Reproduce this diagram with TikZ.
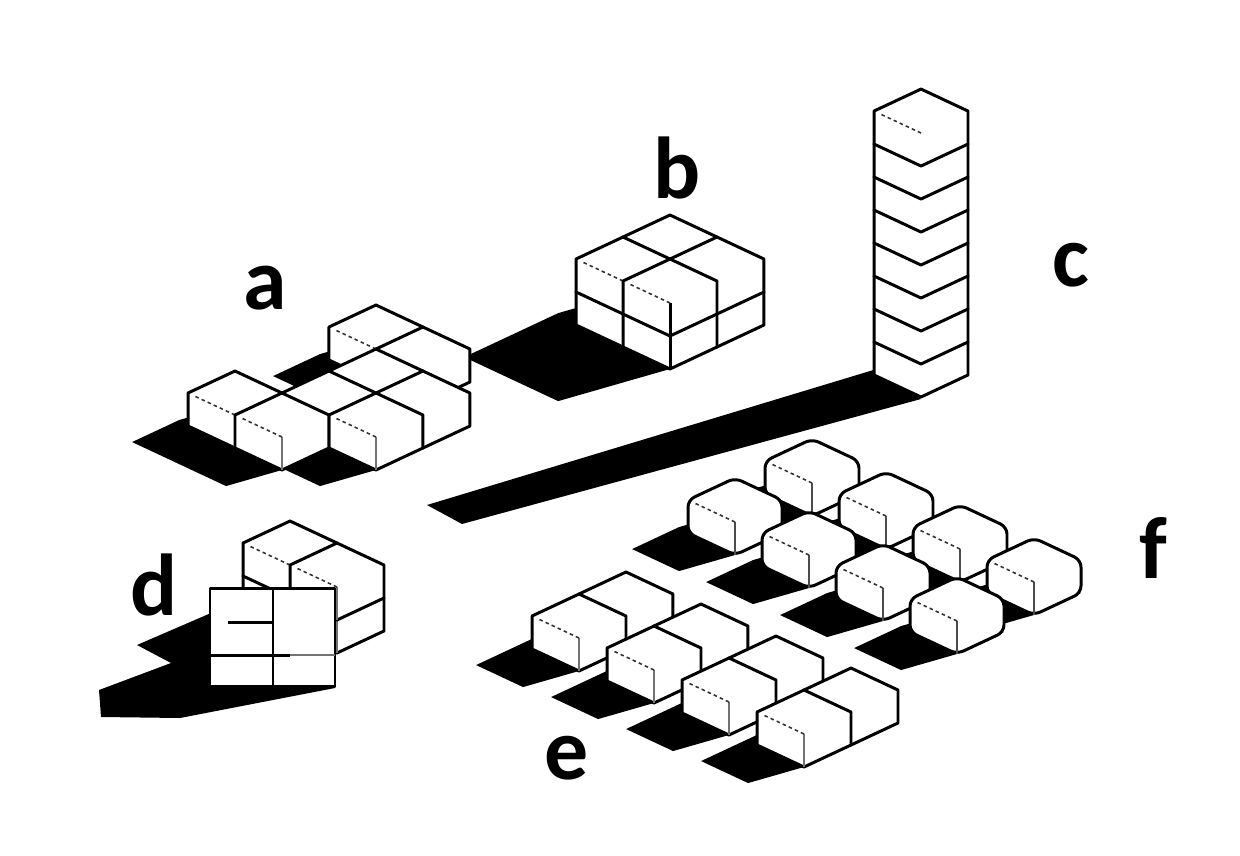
\documentclass[tikz,border=0pt]{standalone}
\usepackage{fontspec}
\setmainfont{Carlito}
\usetikzlibrary{positioning}
% one unit cube at (i,j,k) in the iso frame of the current scope
\newcommand{\isocube}[3]{%
  \filldraw[cubeface] (#1,#2,#3) -- ++(1,0,0) -- ++(0,0,1) -- ++(0,1,0) -- ++(-1,0,0) -- ++(0,0,-1) -- cycle;
  \draw[frontedge] (#1,#2,#3) -- ++(0,0,1);
  \draw[hidedge] (#1,#2,#3) ++(0,0,1) -- ++(0,1,0);
  \draw[cubeedge] (#1,#2,#3) ++(0,0,1) -- ++(1,0,0);
}
% ground shadow of a block: corner i j, size w x d, height h
\newcommand{\isoshadow}[5]{%
  \fill[shadowfill] (#1,#2,0) -- ++(#3,0,0) -- ++(0,#4,0) -- ++({-0.96*#5},{0.23*#5},0) -- ++(-#3,0,0) -- ++(0,-#4,0) -- cycle;
}

\begin{document}
\begin{tikzpicture}[x=0.02cm, y=-0.02cm,
  iso/.style={x={(0.94cm,0.44cm)}, y={(-0.94cm,0.44cm)}, z={(0cm,0.66cm)}},
  cubeface/.style={fill=white, draw=black, line width=1.7pt, line join=round},
  cubeedge/.style={draw=none},
  hidedge/.style={draw=black!80, line width=0.9pt, dash pattern=on 2pt off 1.8pt, shorten >=4pt},
  frontedge/.style={draw=black!55, line width=1.1pt},
  shadowfill/.style={fill=black},
  letter/.style={font=\fontsize{50}{50}\selectfont\bfseries, inner sep=0pt}
]
  \useasboundingbox (0,0) rectangle (1240,855);

  % Shadows
  \fill[shadowfill] (880,368) -- (427,505) -- (462,524) -- (921,399) -- cycle;
  \begin{scope}[shift={(670,369)}, iso]
    \isoshadow{0}{0}{2}{2}{2}
  \end{scope}
  \begin{scope}[shift={(235,448)}, iso]
    \isoshadow{3}{0}{1}{1}{1}
    \isoshadow{3}{-1}{1}{1}{1}
    \isoshadow{2}{-1}{1}{1}{1}
    \isoshadow{2}{-2}{1}{1}{1}
    \isoshadow{1}{-1}{1}{1}{1}
    \isoshadow{1}{-2}{1}{1}{1}
    \isoshadow{0}{0}{1}{1}{1}
    \isoshadow{0}{-1}{1}{1}{1}
  \end{scope}
  \fill[shadowfill] (211,613) -- (137,645) -- (171,663) -- (99,690) -- (101,717)
    -- (180,718) -- (335,688) -- (335,670) -- (211,670) -- cycle;

  % a
  \begin{scope}[shift={(235,448)}, iso]
    \isocube{3}{0}{0}
    \isocube{3}{-1}{0}
    \isocube{2}{-1}{0}
    \isocube{2}{-2}{0}
    \isocube{1}{-1}{0}
    \isocube{0}{0}{0}
    \isocube{1}{-2}{0}
    \isocube{0}{-1}{0}
  \end{scope}

  % b
  \begin{scope}[shift={(670,369)}, iso, frontedge/.style={draw=black, line width=1.7pt}]
    \isocube{1}{1}{0}
    \isocube{1}{0}{0}
    \isocube{0}{1}{0}
    \isocube{0}{0}{0}
    \isocube{1}{1}{1}
    \isocube{1}{0}{1}
    \isocube{0}{1}{1}
    \isocube{0}{0}{1}
  \end{scope}

  % c
  \begin{scope}[shift={(921,397)}, iso, frontedge/.style={draw=none}]
    \isocube{0}{0}{0}
    \isocube{0}{0}{1}
    \isocube{0}{0}{2}
    \isocube{0}{0}{3}
    \isocube{0}{0}{4}
    \isocube{0}{0}{5}
    \isocube{0}{0}{6}
    \isocube{0}{0}{7}
  \end{scope}

  % d
  \begin{scope}[shift={(337,653)}, iso]
    \isocube{0}{1}{0}
    \isocube{0}{0}{0}
    \isocube{0}{1}{1}
    \isocube{0}{0}{1}
  \end{scope}
  \filldraw[cubeface] (210,588) rectangle (335,686);
  \draw[black, line width=1.7pt] (273,588) -- (273,686);
  \draw[black, line width=1.7pt] (210,655) -- (290,655);
  \draw[frontedge] (290,655) -- (335,655);
  \draw[black, line width=1.7pt] (228,622) -- (273,622);

  % f
  \begin{scope}[cubeface/.append style={rounded corners=4pt},
      frontedge/.style={draw=black!70, line width=1.1pt}]
    \begin{scope}[shift={(812,516)}, iso]
      \isoshadow{0}{0}{1}{1}{1}
      \isocube{0}{0}{0}
    \end{scope}
    \begin{scope}[shift={(735,555)}, iso]
      \isoshadow{0}{0}{1}{1}{1}
      \isocube{0}{0}{0}
    \end{scope}
    \begin{scope}[shift={(886,549)}, iso]
      \isoshadow{0}{0}{1}{1}{1}
      \isocube{0}{0}{0}
    \end{scope}
    \begin{scope}[shift={(809,588)}, iso]
      \isoshadow{0}{0}{1}{1}{1}
      \isocube{0}{0}{0}
    \end{scope}
    \begin{scope}[shift={(960,582)}, iso]
      \isoshadow{0}{0}{1}{1}{1}
      \isocube{0}{0}{0}
    \end{scope}
    \begin{scope}[shift={(883,621)}, iso]
      \isoshadow{0}{0}{1}{1}{1}
      \isocube{0}{0}{0}
    \end{scope}
    \begin{scope}[shift={(1034,615)}, iso]
      \isoshadow{0}{0}{1}{1}{1}
      \isocube{0}{0}{0}
    \end{scope}
    \begin{scope}[shift={(957,654)}, iso]
      \isoshadow{0}{0}{1}{1}{1}
      \isocube{0}{0}{0}
    \end{scope}
  \end{scope}

  % e
  \begin{scope}[shift={(579,671)}, iso]
    \isoshadow{0}{0}{2}{1}{1}
    \isocube{1}{0}{0}
    \isocube{0}{0}{0}
  \end{scope}
  \begin{scope}[shift={(654,703)}, iso]
    \isoshadow{0}{0}{2}{1}{1}
    \isocube{1}{0}{0}
    \isocube{0}{0}{0}
  \end{scope}
  \begin{scope}[shift={(729,735)}, iso]
    \isoshadow{0}{0}{2}{1}{1}
    \isocube{1}{0}{0}
    \isocube{0}{0}{0}
  \end{scope}
  \begin{scope}[shift={(804,767)}, iso]
    \isoshadow{0}{0}{2}{1}{1}
    \isocube{1}{0}{0}
    \isocube{0}{0}{0}
  \end{scope}

  % Labels
  \node[letter] (lbla) at (265,288) {a};
  \node[letter] (lblb) at (677,168) {b};
  \node[letter] (lblc) at (1071,265) {c};
  \node[letter] (lbld) at (154,585) {d};
  \node[letter] (lble) at (567,758) {e};
  \node[letter] (lblf) at (1153,548) {f};
\end{tikzpicture}
\end{document}
